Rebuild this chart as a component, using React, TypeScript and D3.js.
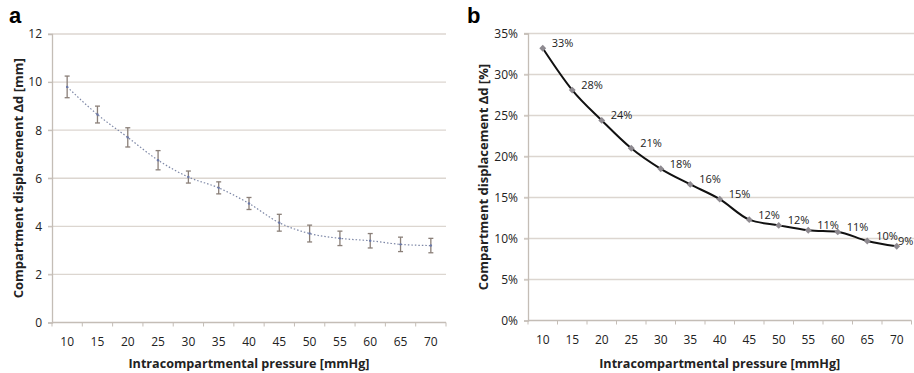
import { useRef, useEffect } from "react";
import * as d3 from "d3";

const pressures = [10, 15, 20, 25, 30, 35, 40, 45, 50, 55, 60, 65, 70];
const displacementMm = [9.8, 8.65, 7.7, 6.75, 6.05, 5.6, 4.95, 4.15, 3.7, 3.5, 3.4, 3.25, 3.2];
const errorMm = [0.45, 0.35, 0.4, 0.4, 0.25, 0.25, 0.25, 0.35, 0.35, 0.3, 0.3, 0.3, 0.3];
const displacementPct = [0.332, 0.281, 0.244, 0.21, 0.185, 0.166, 0.148, 0.123, 0.116, 0.11, 0.108, 0.097, 0.0905];
const pctLabels = ["33%", "28%", "24%", "21%", "18%", "16%", "15%", "12%", "12%", "11%", "11%", "10%", "9%"];
const ticksMm = [0, 2, 4, 6, 8, 10, 12];
const ticksPct = [0, 0.05, 0.1, 0.15, 0.2, 0.25, 0.3, 0.35];

const FONT = "'Open Sans', 'Liberation Sans', sans-serif";
const GRID = "#dcd6d0";
const AXIS = "#c4bdb6";
const TEXT = "#222";

export default function App() {
  const svgRef = useRef<SVGSVGElement>(null);

  useEffect(() => {
    if (!svgRef.current) return;
    const svg = d3.select(svgRef.current);
    svg.selectAll("*").remove();

    const drawFrame = (
      x: d3.ScaleBand<number>,
      y: d3.ScaleLinear<number, number>,
      ticks: number[],
      fmt: (v: number) => string,
      gridRight: number,
      yTitle: string,
      yTitleX: number,
      letter: string,
      letterX: number
    ) => {
      const g = svg.append("g");
      const [x0] = x.range();

      // gridlines
      g.selectAll("line.grid")
        .data(ticks.filter((t) => t !== 0))
        .join("line")
        .attr("x1", x0 - 4)
        .attr("x2", gridRight)
        .attr("y1", (d) => y(d))
        .attr("y2", (d) => y(d))
        .attr("stroke", GRID)
        .attr("stroke-width", 1.3);

      // y axis
      g.append("g")
        .attr("transform", `translate(${x0},0)`)
        .call(d3.axisLeft(y).tickValues(ticks).tickSize(4).tickPadding(6).tickFormat((d) => fmt(d as number)))
        .call((a) => a.select(".domain").attr("stroke", AXIS).attr("stroke-width", 1.3))
        .call((a) => a.selectAll(".tick line").attr("stroke", AXIS))
        .call((a) =>
          a.selectAll(".tick text").attr("fill", TEXT).attr("font-size", 12).attr("font-family", FONT)
        );

      // x axis
      const yBase = y(0);
      const bounds = [...x.domain().map((d) => x(d) as number), x.range()[1]];
      g.append("line")
        .attr("x1", x0)
        .attr("x2", x.range()[1])
        .attr("y1", yBase)
        .attr("y2", yBase)
        .attr("stroke", AXIS)
        .attr("stroke-width", 1.3);
      g.selectAll("line.xt")
        .data(bounds)
        .join("line")
        .attr("x1", (d) => d)
        .attr("x2", (d) => d)
        .attr("y1", yBase)
        .attr("y2", yBase + 4)
        .attr("stroke", AXIS);
      g.selectAll("text.xl")
        .data(x.domain())
        .join("text")
        .attr("x", (d) => (x(d) as number) + x.bandwidth() / 2)
        .attr("y", yBase + 23)
        .attr("text-anchor", "middle")
        .attr("font-size", 12)
        .attr("font-family", FONT)
        .attr("fill", TEXT)
        .text((d) => d);

      // titles
      const xc = (x0 + x.range()[1]) / 2;
      g.append("text")
        .attr("x", xc)
        .attr("y", 368)
        .attr("text-anchor", "middle")
        .attr("font-size", 12.6)
        .attr("font-weight", "bold")
        .attr("font-family", FONT)
        .attr("fill", TEXT)
        .text("Intracompartmental pressure [mmHg]");
      const yc = (y.range()[0] + y.range()[1]) / 2;
      g.append("text")
        .attr("transform", `translate(${yTitleX},${yc}) rotate(-90)`)
        .attr("text-anchor", "middle")
        .attr("font-size", 13)
        .attr("font-weight", "bold")
        .attr("font-family", FONT)
        .attr("fill", TEXT)
        .text(yTitle);
      g.append("text")
        .attr("x", letterX)
        .attr("y", 23)
        .attr("font-size", 22)
        .attr("font-weight", "bold")
        .attr("font-family", "'Liberation Sans', Arial, sans-serif")
        .attr("fill", "#000")
        .text(letter);
    };

    // Panel a
    const xa = d3.scaleBand<number>().domain(pressures).range([52, 446]).padding(0);
    const ya = d3.scaleLinear().domain([0, 12]).range([322.5, 34]);
    drawFrame(xa, ya, ticksMm, (v) => String(v), 446, "Compartment displacement Δd [mm]", 23, "a", 9);

    const cxa = (i: number) => (xa(pressures[i]) as number) + xa.bandwidth() / 2;
    const ga = svg.append("g");
    const lineA = d3
      .line<number>()
      .x((_, i) => cxa(i))
      .y((d) => ya(d))
      .curve(d3.curveMonotoneX);
    ga.append("path")
      .datum(displacementMm)
      .attr("d", lineA)
      .attr("fill", "none")
      .attr("stroke", "#7d87a6")
      .attr("stroke-width", 1.2)
      .attr("stroke-dasharray", "1.5,2");
    displacementMm.forEach((v, i) => {
      const cx = cxa(i);
      const e = errorMm[i];
      const bar = ga.append("g").attr("stroke", "#8a7f78").attr("stroke-width", 1.3);
      bar.append("line").attr("x1", cx).attr("x2", cx).attr("y1", ya(v + e)).attr("y2", ya(v - e));
      bar.append("line").attr("x1", cx - 2.5).attr("x2", cx + 2.5).attr("y1", ya(v + e)).attr("y2", ya(v + e));
      bar.append("line").attr("x1", cx - 2.5).attr("x2", cx + 2.5).attr("y1", ya(v - e)).attr("y2", ya(v - e));
      ga.append("circle").attr("cx", cx).attr("cy", ya(v)).attr("r", 1.2).attr("fill", "#6a78a8");
    });

    // Panel b
    const xb = d3.scaleBand<number>().domain(pressures).range([528, 911.5]).padding(0);
    const yb = d3.scaleLinear().domain([0, 0.35]).range([320.5, 33.5]);
    drawFrame(xb, yb, ticksPct, d3.format(".0%"), 914, "Compartment displacement Δd [%]", 488, "b", 467);

    const cxb = (i: number) => (xb(pressures[i]) as number) + xb.bandwidth() / 2;
    const gb = svg.append("g");
    const lineB = d3
      .line<number>()
      .x((_, i) => cxb(i))
      .y((d) => yb(d))
      .curve(d3.curveMonotoneX);
    gb.append("path")
      .datum(displacementPct)
      .attr("d", lineB)
      .attr("fill", "none")
      .attr("stroke", "#111")
      .attr("stroke-width", 2);
    gb.selectAll("path.m")
      .data(displacementPct)
      .join("path")
      .attr("d", d3.symbol().type(d3.symbolDiamond2).size(30))
      .attr("transform", (d, i) => `translate(${cxb(i)},${yb(d)})`)
      .attr("fill", "#8e8a90");
    gb.selectAll("text.lbl")
      .data(displacementPct)
      .join("text")
      .attr("x", (_, i) => Math.min(cxb(i) + 9, 898))
      .attr("y", (d) => yb(d) - 1)
      .attr("font-size", 11)
      .attr("font-family", FONT)
      .attr("fill", TEXT)
      .text((_, i) => pctLabels[i]);
  }, []);

  return (
    <svg
      ref={svgRef}
      width={914}
      height={373}
      style={{ position: "absolute", left: 0, top: 0, background: "#fff" }}
    />
  );
}
